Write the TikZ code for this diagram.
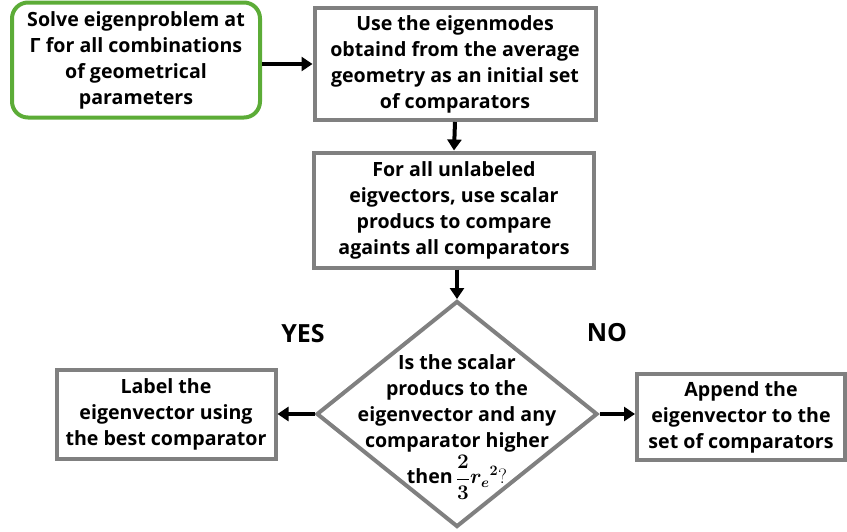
\documentclass[tikz,border=0pt]{standalone}
\usepackage{fontspec}
\setmainfont{Open Sans}
\usetikzlibrary{arrows.meta,shapes.geometric}
\definecolor{boxgreen}{RGB}{92,172,55}
\definecolor{boxgray}{RGB}{128,128,128}
\begin{document}
\begin{tikzpicture}[x={(1pt,0)},y={(0,-1pt)},
  txt/.style={font=\fontsize{19.6}{26}\selectfont\bfseries, align=center, text=black},
  greenbox/.style={txt, draw=boxgreen, line width=4pt, rounded corners=16pt, minimum width=248pt, minimum height=115pt, inner sep=0pt},
  graybox/.style={txt, draw=boxgray, line width=4pt, inner sep=0pt},
  decision/.style={diamond, draw=boxgray, line width=4pt, minimum width=281pt, minimum height=226pt, inner sep=0pt},
  ans/.style={font=\fontsize{25}{30}\selectfont\bfseries},
  arr/.style={line width=4pt, -{Triangle[length=11pt,width=14pt]}}
]
\useasboundingbox (0,0) rectangle (847,531);
\node[greenbox] (solve) at (136,60) {Solve eigenproblem at\\Γ for all combinations\\of geometrical\\parameters};
\node[graybox, minimum width=281pt, minimum height=112pt] (use) at (455,64) {Use the eigenmodes\\obtaind from the average\\geometry as an initial set\\of comparators};
\node[graybox, minimum width=280pt, minimum height=115pt] (forall) at (454,210) {For all unlabeled\\eigvectors, use scalar\\producs to compare\\againts all comparators};
\node[decision] (dec) at (457,414) {};
\node[txt, anchor=north] (dectext) at (457,351) {Is the scalar\\producs to the\\eigenvector and any\\comparator higher\\[2pt]then\,{\fontsize{20}{22}\selectfont\boldmath$\displaystyle\frac{2}{3}{r_e}^{2}$\unboldmath$?$}};
\node[graybox, minimum width=219pt, minimum height=89pt] (label) at (166,414) {Label the\\eigenvector using\\the best comparator};
\node[graybox, minimum width=208pt, minimum height=86pt] (append) at (741,417) {Append the\\eigenvector to the\\set of comparators};
\node[ans] (yes) at (303,334) {YES};
\node[ans] (no) at (607,333) {NO};
\draw[arr] (solve.east |- 0,64) -- (use.west |- 0,64);
\draw[arr] (use.south) -- (forall.north);
\draw[arr] (forall.south -| dec.north) -- (dec.north);
\draw[arr] (dec.west) -- (label.east |- dec.west);
\draw[arr] (dec.east) -- (append.west |- dec.east);
\end{tikzpicture}
\end{document}
